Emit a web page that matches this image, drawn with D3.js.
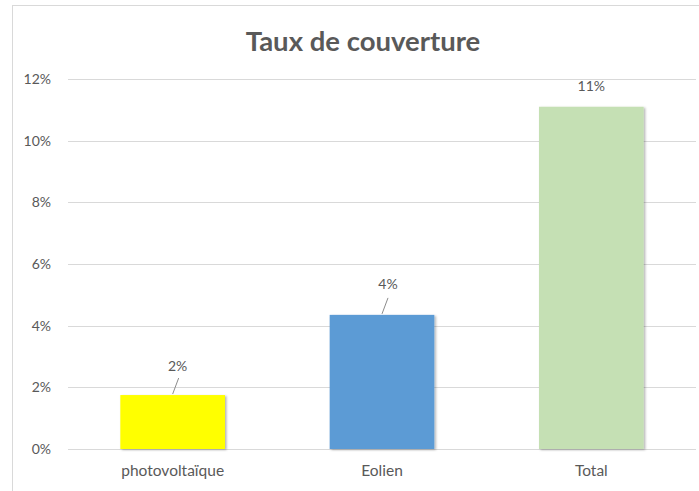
<!DOCTYPE html>
<html>
<head>
<meta charset="utf-8">
<script src="https://cdn.jsdelivr.net/npm/d3@7"></script>
<style>
  body { margin: 0; background: #fff; }
  text { font-family: Lato, "Open Sans", sans-serif; }
</style>
</head>
<body>
<div id="container"></div>
<script>
// Chart data
const categories = ["photovoltaïque", "Eolien", "Total"];
const values = [0.0175, 0.0435, 0.111];
const barLabels = ["2%", "4%", "11%"];
const barColors = ["#FFFF00", "#5B9BD5", "#C5E0B4"];
const yTicks = [0, 0.02, 0.04, 0.06, 0.08, 0.10, 0.12];
const title = "Taux de couverture";

const width = 699;
const height = 491;
const margin = { top: 79, right: 3, bottom: 42, left: 68 };
const font = "Lato, 'Open Sans', sans-serif";

const svg = d3.create("svg")
  .attr("width", width)
  .attr("height", height);
container.append(svg.node());

// soft shadow like the office chart
const defs = svg.append("defs");
const f = defs.append("filter").attr("id", "shadow")
  .attr("x", "-10%").attr("y", "-10%").attr("width", "130%").attr("height", "130%");
f.append("feDropShadow")
  .attr("dx", 1.5).attr("dy", 1).attr("stdDeviation", 1.2)
  .attr("flood-color", "#000").attr("flood-opacity", 0.3);

// chart area border (cut by the window on the right and bottom)
svg.append("rect")
  .attr("x", 12.5).attr("y", 5.5)
  .attr("width", 700).attr("height", 500)
  .attr("fill", "none")
  .attr("stroke", "#d9d9d9");

const x = d3.scaleBand()
  .domain(categories)
  .range([margin.left, width - margin.right])
  .paddingInner(0.5)
  .paddingOuter(0.25);

const y = d3.scaleLinear()
  .domain([0, 0.12])
  .range([height - margin.bottom, margin.top]);

// grid lines
svg.append("g")
  .selectAll("line")
  .data(yTicks)
  .join("line")
  .attr("x1", margin.left)
  .attr("x2", width - margin.right)
  .attr("y1", d => Math.round(y(d)) + 0.5)
  .attr("y2", d => Math.round(y(d)) + 0.5)
  .attr("stroke", "#d9d9d9")
  .attr("stroke-width", 1);

// y axis labels
const yAxis = svg.append("g")
  .attr("transform", `translate(${margin.left - 14},0)`)
  .call(d3.axisLeft(y).tickValues(yTicks).tickFormat(d3.format(".0%")).tickSize(0));
yAxis.select(".domain").remove();
yAxis.selectAll("text")
  .attr("fill", "#595959")
  .style("font-size", "14px")
  .style("font-family", font);

// x axis labels
const xAxis = svg.append("g")
  .attr("transform", `translate(0,${y(0)})`)
  .call(d3.axisBottom(x).tickSize(0).tickPadding(16));
xAxis.select(".domain").remove();
xAxis.selectAll("text")
  .attr("fill", "#595959")
  .style("font-size", "15.5px")
  .style("font-family", font);

// bars
svg.append("g")
  .selectAll("rect")
  .data(values)
  .join("rect")
  .attr("x", (d, i) => x(categories[i]))
  .attr("y", d => y(d))
  .attr("width", x.bandwidth())
  .attr("height", d => y(0) - y(d))
  .attr("fill", (d, i) => barColors[i])
  .attr("filter", "url(#shadow)");

// leader lines for the small bars
const leaders = [0, 1];
svg.append("g")
  .selectAll("line")
  .data(leaders)
  .join("line")
  .attr("x1", i => x(categories[i]) + x.bandwidth() / 2)
  .attr("y1", i => y(values[i]) - 1)
  .attr("x2", i => x(categories[i]) + x.bandwidth() / 2 + 6)
  .attr("y2", i => y(values[i]) - 17)
  .attr("stroke", "#8c8c8c")
  .attr("stroke-width", 1);

// value labels
const labelOffset = [[5, -24], [6, -26], [0, -16]];
svg.append("g")
  .selectAll("text")
  .data(values)
  .join("text")
  .attr("x", (d, i) => x(categories[i]) + x.bandwidth() / 2 + labelOffset[i][0])
  .attr("y", (d, i) => y(d) + labelOffset[i][1])
  .attr("text-anchor", "middle")
  .attr("fill", "#595959")
  .style("font-size", "14px")
  .text((d, i) => barLabels[i]);

// title
svg.append("text")
  .attr("x", 363)
  .attr("y", 51)
  .attr("text-anchor", "middle")
  .attr("fill", "#595959")
  .style("font-size", "27.5px")
  .style("font-weight", "bold")
  .text(title);
</script>
</body>
</html>
